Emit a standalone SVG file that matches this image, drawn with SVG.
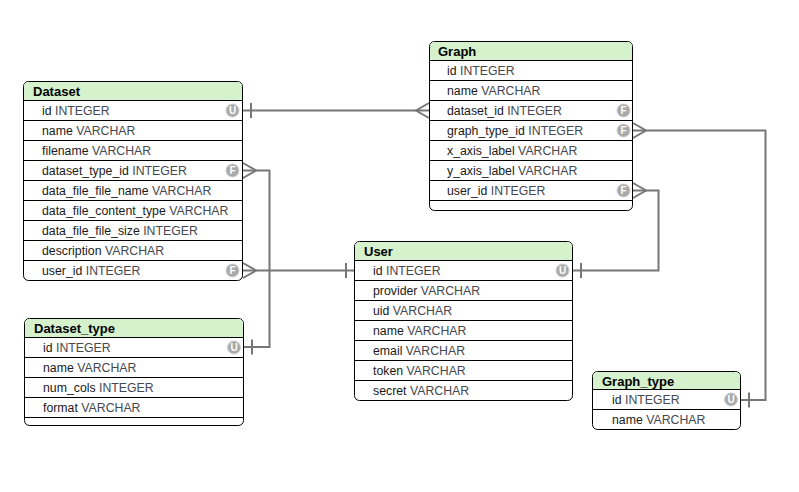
<svg xmlns="http://www.w3.org/2000/svg" width="799" height="492" viewBox="0 0 799 492">
<style>
.box{fill:#fff;stroke:#000;stroke-width:1}
.hdr{fill:#d6f2cc}
.sep{stroke:#000;stroke-width:1}
.title{font-family:"Liberation Sans",Arial,sans-serif;font-size:13px;font-weight:bold;fill:#000}
.f{font-family:"Liberation Sans",Arial,sans-serif;font-size:12.3px;fill:#1a1a1a}
.t{fill:#45484f}
.ic{fill:#a9a9a9;stroke:#cfcfcf;stroke-width:1}
.il{font-family:"Liberation Sans",Arial,sans-serif;font-size:10px;font-weight:bold;fill:#fff;text-anchor:middle}
.c{fill:none;stroke:#777;stroke-width:2}
</style>
<g id="connectors">
<path class="c" d="M243,110.5 H429"/>
<path class="c" d="M251,103 V118"/>
<path class="c" d="M429,103 L416,110.5 L429,118"/>
<path class="c" d="M243,163 L256,170.5 L243,178"/>
<path class="c" d="M243,170.5 H269.5 V347 H244"/>
<path class="c" d="M252,339.5 V354.5"/>
<path class="c" d="M243,263 L256,270.5 L243,278"/>
<path class="c" d="M243,270.5 H354"/>
<path class="c" d="M346,263 V278"/>
<path class="c" d="M633,123 L646,130.5 L633,138"/>
<path class="c" d="M633,130.5 H765.5 V400 H741"/>
<path class="c" d="M749,392.5 V407.5"/>
<path class="c" d="M633,183 L646,190.5 L633,198"/>
<path class="c" d="M633,190.5 H658.5 V270.5 H573"/>
<path class="c" d="M581,263 V278"/>
</g>
<g id="Dataset">
<rect class="box" x="23.5" y="81.5" width="219" height="199" rx="5"/>
<path class="hdr" d="M28.5,82 H237.5 A4.5,4.5 0 0 1 242,86.5 V100 H24 V86.5 A4.5,4.5 0 0 1 28.5,82 Z"/>
<path class="sep" d="M24,100.5 H242 M24,120.5 H242 M24,140.5 H242 M24,160.5 H242 M24,180.5 H242 M24,200.5 H242 M24,220.5 H242 M24,240.5 H242 M24,260.5 H242"/>
<text class="title" x="33" y="95.5">Dataset</text>
<text class="f" x="42" y="115">id <tspan class="t">INTEGER</tspan></text>
<text class="f" x="42" y="135">name <tspan class="t">VARCHAR</tspan></text>
<text class="f" x="42" y="155">filename <tspan class="t">VARCHAR</tspan></text>
<text class="f" x="42" y="175">dataset_type_id <tspan class="t">INTEGER</tspan></text>
<text class="f" x="42" y="195">data_file_file_name <tspan class="t">VARCHAR</tspan></text>
<text class="f" x="42" y="215">data_file_content_type <tspan class="t">VARCHAR</tspan></text>
<text class="f" x="42" y="235">data_file_file_size <tspan class="t">INTEGER</tspan></text>
<text class="f" x="42" y="255">description <tspan class="t">VARCHAR</tspan></text>
<text class="f" x="42" y="275">user_id <tspan class="t">INTEGER</tspan></text>
<circle class="ic" cx="232.5" cy="110.5" r="6.5"/><text class="il" x="232.5" y="114">U</text>
<circle class="ic" cx="232.5" cy="170.5" r="6.5"/><text class="il" x="232.5" y="174">F</text>
<circle class="ic" cx="232.5" cy="270.5" r="6.5"/><text class="il" x="232.5" y="274">F</text>
</g>
<g id="Graph">
<rect class="box" x="429.5" y="41.5" width="203" height="169" rx="5"/>
<path class="hdr" d="M434.5,42 H627.5 A4.5,4.5 0 0 1 632,46.5 V60 H430 V46.5 A4.5,4.5 0 0 1 434.5,42 Z"/>
<path class="sep" d="M430,60.5 H632 M430,80.5 H632 M430,100.5 H632 M430,120.5 H632 M430,140.5 H632 M430,160.5 H632 M430,180.5 H632 M430,200.5 H632"/>
<text class="title" x="438" y="55.5">Graph</text>
<text class="f" x="447" y="75">id <tspan class="t">INTEGER</tspan></text>
<text class="f" x="447" y="95">name <tspan class="t">VARCHAR</tspan></text>
<text class="f" x="447" y="115">dataset_id <tspan class="t">INTEGER</tspan></text>
<text class="f" x="447" y="135">graph_type_id <tspan class="t">INTEGER</tspan></text>
<text class="f" x="447" y="155">x_axis_label <tspan class="t">VARCHAR</tspan></text>
<text class="f" x="447" y="175">y_axis_label <tspan class="t">VARCHAR</tspan></text>
<text class="f" x="447" y="195">user_id <tspan class="t">INTEGER</tspan></text>
<circle class="ic" cx="623.5" cy="110.5" r="6.5"/><text class="il" x="623.5" y="114">F</text>
<circle class="ic" cx="623.5" cy="130.5" r="6.5"/><text class="il" x="623.5" y="134">F</text>
<circle class="ic" cx="623.5" cy="190.5" r="6.5"/><text class="il" x="623.5" y="194">F</text>
</g>
<g id="User">
<rect class="box" x="354.5" y="241.5" width="218" height="159" rx="5"/>
<path class="hdr" d="M359.5,242 H567.5 A4.5,4.5 0 0 1 572,246.5 V260 H355 V246.5 A4.5,4.5 0 0 1 359.5,242 Z"/>
<path class="sep" d="M355,260.5 H572 M355,280.5 H572 M355,300.5 H572 M355,320.5 H572 M355,340.5 H572 M355,360.5 H572 M355,380.5 H572"/>
<text class="title" x="364" y="255.5">User</text>
<text class="f" x="373" y="275">id <tspan class="t">INTEGER</tspan></text>
<text class="f" x="373" y="295">provider <tspan class="t">VARCHAR</tspan></text>
<text class="f" x="373" y="315">uid <tspan class="t">VARCHAR</tspan></text>
<text class="f" x="373" y="335">name <tspan class="t">VARCHAR</tspan></text>
<text class="f" x="373" y="355">email <tspan class="t">VARCHAR</tspan></text>
<text class="f" x="373" y="375">token <tspan class="t">VARCHAR</tspan></text>
<text class="f" x="373" y="395">secret <tspan class="t">VARCHAR</tspan></text>
<circle class="ic" cx="562.5" cy="270.5" r="6.5"/><text class="il" x="562.5" y="274">U</text>
</g>
<g id="Dataset_type">
<rect class="box" x="24.5" y="318.5" width="219" height="107" rx="5"/>
<path class="hdr" d="M29.5,319 H238.5 A4.5,4.5 0 0 1 243,323.5 V337 H25 V323.5 A4.5,4.5 0 0 1 29.5,319 Z"/>
<path class="sep" d="M25,337.5 H243 M25,357.5 H243 M25,377.5 H243 M25,397.5 H243 M25,417.5 H243"/>
<text class="title" x="34" y="332.5">Dataset_type</text>
<text class="f" x="43" y="352">id <tspan class="t">INTEGER</tspan></text>
<text class="f" x="43" y="372">name <tspan class="t">VARCHAR</tspan></text>
<text class="f" x="43" y="392">num_cols <tspan class="t">INTEGER</tspan></text>
<text class="f" x="43" y="412">format <tspan class="t">VARCHAR</tspan></text>
<circle class="ic" cx="234" cy="347.5" r="6.5"/><text class="il" x="234" y="351">U</text>
</g>
<g id="Graph_type">
<rect class="box" x="592.5" y="371.5" width="148" height="58" rx="5"/>
<path class="hdr" d="M597.5,372 H735.5 A4.5,4.5 0 0 1 740,376.5 V389 H593 V376.5 A4.5,4.5 0 0 1 597.5,372 Z"/>
<path class="sep" d="M593,389.5 H740 M593,409.5 H740"/>
<text class="title" x="602" y="385.5">Graph_type</text>
<text class="f" x="612" y="404">id <tspan class="t">INTEGER</tspan></text>
<text class="f" x="612" y="424">name <tspan class="t">VARCHAR</tspan></text>
<circle class="ic" cx="731" cy="399.5" r="6.5"/><text class="il" x="731" y="403">U</text>
</g>
</svg>
